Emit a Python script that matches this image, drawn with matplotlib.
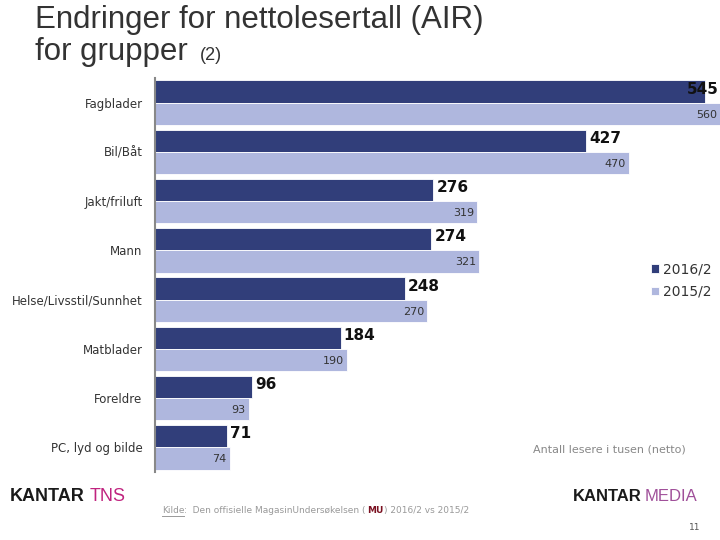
import matplotlib.pyplot as plt
import numpy as np

categories = ['Fagblader', 'Bil/Båt', 'Jakt/friluft', 'Mann',
              'Helse/Livsstil/Sunnhet', 'Matblader', 'Foreldre', 'PC, lyd og bilde']
air_2016 = [545, 427, 276, 274, 248, 184, 96, 71]
air_2015 = [560, 470, 319, 321, 270, 190, 93, 74]
series_labels = ['2016/2', '2015/2']

dark = '#313e7a'
light = '#afb7de'

fig = plt.figure(figsize=(7.2, 5.4), dpi=100)
ax = fig.add_axes([155 / 720, 1 - 472 / 540, 565 / 720, 394 / 540])

y = np.arange(len(categories))
h = 0.45
b1 = ax.barh(y - h / 2, air_2016, height=h, color=dark, edgecolor='white', linewidth=0.6,
             label=series_labels[0])
b2 = ax.barh(y + h / 2, air_2015, height=h, color=light, edgecolor='white', linewidth=0.6,
             label=series_labels[1])

ax.set_xlim(0, 560)
ax.set_ylim(len(categories) - 0.5, -0.5)

for yi, v in zip(y, air_2016):
    if v > 520:
        x, ha = 559, 'right'
    else:
        x, ha = v + 3, 'left'
    ax.text(x, yi - h / 2 - 0.05, str(v), ha=ha, va='center', fontsize=11,
            fontweight='bold', color='#111111', family='DejaVu Sans')
for yi, v in zip(y, air_2015):
    ax.text(v - 3, yi + h / 2 + 0.02, str(v), ha='right', va='center', fontsize=8,
            color='#333333', family='DejaVu Sans')

ax.set_yticks(y)
ax.set_yticklabels(categories, fontsize=8.5, color='#333333', family='DejaVu Sans')
ax.tick_params(axis='y', length=0, pad=9)
ax.set_xticks([])
for s in ['top', 'right', 'bottom']:
    ax.spines[s].set_visible(False)
ax.spines['left'].set_color('#888888')
ax.spines['left'].set_linewidth(1.5)

fig.legend(handles=[b1, b2], labels=series_labels, loc='upper left',
           bbox_to_anchor=(638 / 720, 1 - 250 / 540), frameon=False, fontsize=10,
           handlelength=0.6, handleheight=0.6, handletextpad=0.3, labelspacing=0.6,
           labelcolor='#333333')

renderer = fig.canvas.get_renderer()


def after(prev, text, gap=0, **kw):
    # place a text right after the previous one, same baseline
    bb = prev.get_window_extent(renderer)
    x0 = (bb.x1 + gap) / 720
    return fig.text(x0, prev.get_position()[1], text, va='baseline', **kw)


# title
fig.text(35 / 720, 1 - 28 / 540, 'Endringer for nettolesertall (AIR)', fontsize=22.5,
         color='#333333', va='baseline', family='Liberation Sans')
t2 = fig.text(35 / 720, 1 - 60 / 540, 'for grupper', fontsize=22.5, color='#333333',
              va='baseline', family='Liberation Sans')
after(t2, '(2)', gap=12, fontsize=13, color='#333333', family='Liberation Sans')

fig.text(686 / 720, 1 - 450 / 540, 'Antall lesere i tusen (netto)', fontsize=8,
         color='#888888', ha='right', va='center')

# footer logos
k1 = fig.text(10 / 720, 1 - 501 / 540, 'KANTAR', fontsize=13, fontweight='bold',
              color='#1a1a1a', va='baseline', family='Liberation Sans')
after(k1, 'TNS', gap=5, fontsize=13, color='#c0237f', family='Liberation Sans')
k2 = fig.text(573 / 720, 1 - 501 / 540, 'KANTAR', fontsize=12, fontweight='bold',
              color='#1a1a1a', va='baseline', family='Liberation Sans')
after(k2, 'MEDIA', gap=3, fontsize=12, color='#a0509a', family='Liberation Sans')

# source line
s1 = fig.text(162 / 720, 1 - 513 / 540, 'Kilde', fontsize=6.5, color='#999999',
              va='baseline')
bb = s1.get_window_extent(renderer)
fig.add_artist(plt.Line2D([bb.x0 / 720, bb.x1 / 720], [(bb.y0 - 1) / 540, (bb.y0 - 1) / 540],
                          color='#999999', linewidth=0.7))
s2 = after(s1, ':  Den offisielle MagasinUndersøkelsen (', fontsize=6.5, color='#999999')
s3 = after(s2, 'MU', gap=1, fontsize=6.5, color='#7a1020', fontweight='bold')
after(s3, ') 2016/2 vs 2015/2', gap=1, fontsize=6.5, color='#999999')

fig.text(700 / 720, 1 - 527 / 540, '11', fontsize=6.5, color='#555555',
         ha='right', va='center')

fig.savefig('out.png', dpi=100)
